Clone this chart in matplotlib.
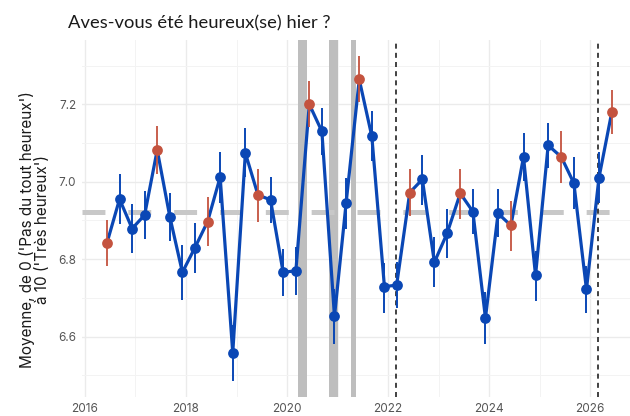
import matplotlib
matplotlib.use("Agg")
import matplotlib.pyplot as plt
import numpy as np
import pandas as pd

# ---- data ----
dates = ["2016-06-08", "2016-09-07", "2016-12-07", "2017-03-08", "2017-06-07", "2017-09-06",
         "2017-12-06", "2018-03-07", "2018-06-06", "2018-09-05", "2018-12-05", "2019-03-06",
         "2019-06-05", "2019-09-04", "2019-12-04", "2020-03-05", "2020-06-10", "2020-09-09",
         "2020-12-09", "2021-03-04", "2021-06-07", "2021-09-06", "2021-12-06", "2022-03-04",
         "2022-06-07", "2022-09-06", "2022-12-02", "2023-03-04", "2023-06-07", "2023-09-06",
         "2023-12-06", "2024-03-06", "2024-06-07", "2024-09-06", "2024-12-02", "2025-03-04",
         "2025-06-07", "2025-09-06", "2025-12-06", "2026-03-06", "2026-06-07"]
means = [6.842, 6.955, 6.879, 6.914, 7.082, 6.910, 6.766, 6.830, 6.897, 7.012, 6.558,
         7.074, 6.966, 6.953, 6.766, 6.770, 7.200, 7.130, 6.652, 6.945, 7.264, 7.117,
         6.729, 6.733, 6.972, 7.006, 6.792, 6.867, 6.970, 6.923, 6.648, 6.918, 6.887,
         7.064, 6.758, 7.094, 7.064, 6.996, 6.722, 7.010, 7.180]
lows = [6.782, 6.890, 6.815, 6.853, 7.020, 6.847, 6.695, 6.764, 6.834, 6.946, 6.486,
        7.011, 6.897, 6.893, 6.705, 6.707, 7.142, 7.070, 6.581, 6.877, 7.206, 7.053,
        6.660, 6.673, 6.911, 6.941, 6.727, 6.804, 6.905, 6.864, 6.581, 6.856, 6.821,
        7.002, 6.692, 7.036, 6.997, 6.930, 6.662, 6.946, 7.122]
highs = [6.901, 7.020, 6.943, 6.976, 7.145, 6.972, 6.836, 6.894, 6.961, 7.077, 6.630,
         7.139, 7.034, 7.013, 6.826, 6.831, 7.261, 7.190, 6.723, 7.010, 7.324, 7.182,
         6.790, 6.793, 7.033, 7.070, 6.856, 6.929, 7.033, 6.980, 6.715, 6.980, 6.951,
         7.126, 6.821, 7.152, 7.132, 7.064, 6.782, 7.076, 7.238]
overall_mean = 6.923
lockdowns = [("2020-03-17", "2020-05-25"), ("2020-11-02", "2020-12-31"), ("2021-04-05", "2021-05-15")]
events = ["2022-02-24", "2026-02-24"]
year_ticks = [2016, 2018, 2020, 2022, 2024, 2026]
y_ticks = [6.6, 6.8, 7.0, 7.2]

BLUE = "#0a47b5"
RED = "#c4533f"


def dec_year(s):
    d = pd.Timestamp(s)
    return d.year + (d.dayofyear - 1) / 365.25


x = np.array([dec_year(d) for d in dates])
months = np.array([pd.Timestamp(d).month for d in dates])
m = np.array(means)
lo = np.array(lows)
hi = np.array(highs)
red = months == 6

plt.rcParams['font.family'] = ['Inter', 'DejaVu Sans']
plt.rcParams['lines.scale_dashes'] = False

fig = plt.figure(figsize=(6.3, 4.16), dpi=100)
ax = fig.add_axes([81.7 / 630, 1 - 397 / 416, 1 - 81.7 / 630, (397 - 40) / 416])

for s, e in lockdowns:
    ax.axvspan(dec_year(s), dec_year(e), color="#bebebe", lw=0, zorder=1)

ax.axhline(overall_mean, color="#c8c8c8", lw=3.6, dashes=(16.5, 16.5), zorder=2)
for ev in events:
    ax.axvline(dec_year(ev), color="#333333", lw=1.3, dashes=(3.6, 3.0), zorder=2)

for xi, l, h, r in zip(x, lo, hi, red):
    if not r:
        ax.plot([xi, xi], [l, h], color=BLUE, lw=1.4, solid_capstyle="butt", zorder=3)
ax.plot(x, m, color=BLUE, lw=2.3, zorder=4, solid_joinstyle="round")
ax.scatter(x[~red], m[~red], s=60, color=BLUE, zorder=5, linewidths=0)
for xi, l, h, r in zip(x, lo, hi, red):
    if r:
        ax.plot([xi, xi], [l, h], color=RED, lw=1.3, solid_capstyle="butt", zorder=6)
ax.scatter(x[red], m[red], s=60, color=RED, zorder=7, linewidths=0)

ax.set_xlim(2015.935, 2026.79)
ax.set_ylim(6.444, 7.366)
ax.set_xticks(year_ticks)
ax.set_xticklabels([str(t) for t in year_ticks])
ax.set_xticks([2017, 2019, 2021, 2023, 2025], minor=True)
ax.set_yticks(y_ticks)
ax.set_yticklabels([f"{t:.1f}" for t in y_ticks])
ax.set_yticks([6.5, 6.7, 6.9, 7.1, 7.3], minor=True)
ax.grid(which="major", color="#ebebeb", lw=1.0, zorder=0)
ax.grid(which="minor", color="#f3f3f3", lw=0.7, zorder=0)
ax.set_axisbelow(True)
ax.tick_params(which="both", length=0, labelsize=8.5, labelcolor="#555555", pad=4)
for sp in ax.spines.values():
    sp.set_visible(False)

ax.set_ylabel("Moyenne, de 0 ('Pas du tout heureux')\nà 10 ('Très heureux')",
              fontsize=11, color="#1a1a1a", linespacing=0.95)
ax.yaxis.set_label_coords(-0.058, 0.47)
fig.text(68 / 630, 1 - 28 / 416, "Aves-vous été heureux(se) hier ?", fontsize=13.2,
         color="#1a1a1a", ha="left", va="baseline", family=["Lato", "DejaVu Sans"])

fig.savefig("out.png", dpi=100)
